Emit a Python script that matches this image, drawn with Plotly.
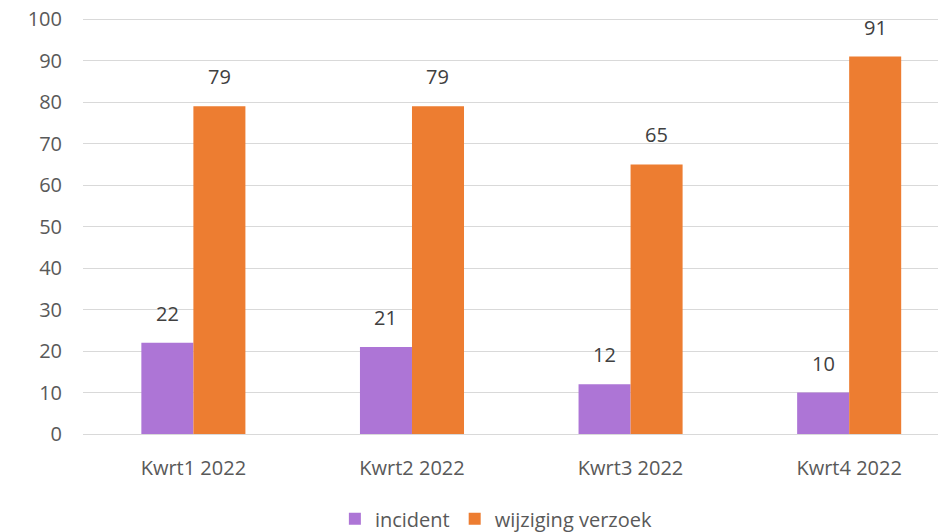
import plotly.graph_objects as go

categories = ["Kwrt1 2022", "Kwrt2 2022", "Kwrt3 2022", "Kwrt4 2022"]
incident = [22, 21, 12, 10]
wijziging = [79, 79, 65, 91]
series_names = ["incident", "wijziging verzoek"]
colors = ["#AD75D6", "#ED7D31"]
y_ticks = list(range(0, 101, 10))

FONT = "Open Sans, Liberation Sans, sans-serif"

fig = go.Figure()
for name, vals, col in zip(series_names, [incident, wijziging], colors):
    fig.add_trace(go.Bar(x=categories, y=vals, name=name, marker_color=col,
                         marker_line_width=0))

annotations = []
for vals, shift in [(incident, -26), (wijziging, 26)]:
    for c, v in zip(categories, vals):
        annotations.append(dict(x=c, y=v, xref="x", yref="y", text=str(v),
                                showarrow=False, xshift=shift, yshift=14,
                                yanchor="bottom",
                                font=dict(family=FONT, size=20, color="#404040")))

fig.update_layout(
    width=938, height=524,
    margin=dict(l=75, r=0, t=10, b=98, autoexpand=False),
    plot_bgcolor="white", paper_bgcolor="white",
    barmode="group", bargap=0.524, bargroupgap=0,
    font=dict(family=FONT, size=20, color="#595959"),
    annotations=annotations,
    legend=dict(orientation="h", x=0.479, xanchor="center", y=-0.204, yanchor="middle",
                font=dict(family=FONT, size=20, color="#595959"),
                itemwidth=30, traceorder="normal"),
    xaxis=dict(range=[-0.505, 3.443], showgrid=False, showline=False, automargin=False,
               ticks="", ticklabelstandoff=20, zeroline=False),
    yaxis=dict(range=[0, 100.3], tickvals=y_ticks, showgrid=True, gridcolor="#D9D9D9",
               gridwidth=1, zeroline=True, zerolinecolor="#D9D9D9", zerolinewidth=1,
               showline=False, ticks="", ticklabelstandoff=20, automargin=False,
               ticklabeloverflow="allow"),
)

fig.write_html("out.html")
